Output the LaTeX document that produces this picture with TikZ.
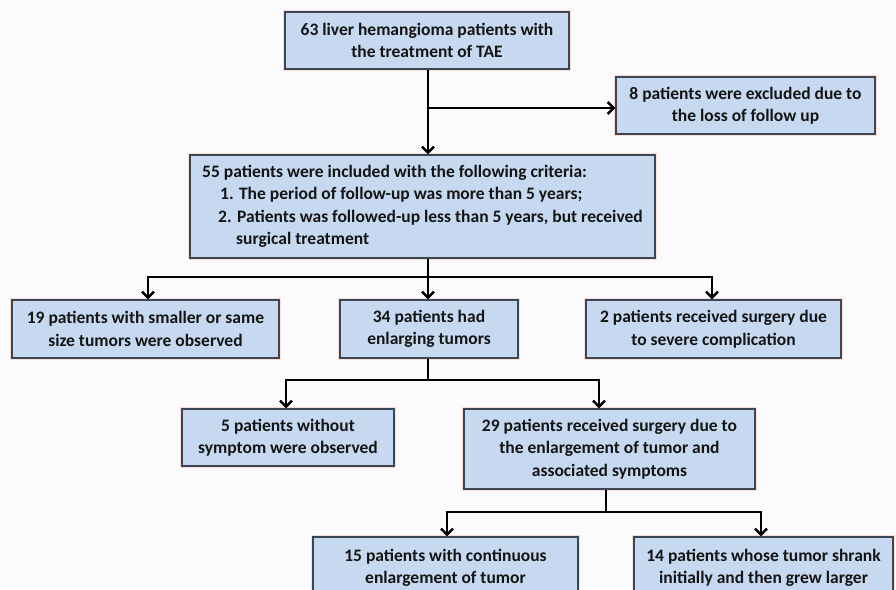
\documentclass[tikz,border=0pt]{standalone}
\usepackage{fontspec}
\setmainfont{Carlito}
\usetikzlibrary{arrows.meta,calc}
\definecolor{boxfill}{RGB}{198,217,240}
\definecolor{boxline}{RGB}{60,70,82}
\definecolor{halo}{RGB}{248,222,212}
\definecolor{bg}{RGB}{251,251,253}
\definecolor{txt}{RGB}{20,20,20}
\tikzset{
  box/.style={rectangle, draw=boxline, line width=1.3pt, fill=boxfill,
    preaction={draw=halo, line width=3.4pt},
    inner sep=0pt, align=center, text=txt,
    font=\fontsize{17.5}{22.5}\selectfont\bfseries},
  conn/.style={line width=2.4pt, black},
  arr/.style={conn, -{Straight Barb[length=6pt,width=12pt]}},
}
\newcommand{\bx}[6]{% name, x1, y1, x2, y2, text
  \node[box, minimum width=#4-#2, minimum height=#5-#3] (#1) at ({(#2+#4)/2},{(#3+#5)/2}) {#6};}
\begin{document}
\begin{tikzpicture}[x=1pt,y=-1pt]
\useasboundingbox (0,0) rectangle (896,589);
\clip (0,0) rectangle (896,589);
\fill[bg] (0,0) rectangle (896,589);

\bx{b1}{285}{12}{569}{69}{63 liver hemangioma patients with\\the treatment of TAE}
\bx{ex}{616}{77}{875}{134}{8 patients were excluded due to\\the loss of follow up}
\node[box, minimum width=465, minimum height=103, align=left] (b55) at (422.5,206.5)
 {55 patients were included with the following criteria:\\
  \hspace*{18pt}1. The period of follow-up was more than 5 years;\\
  \hspace*{16pt}2. Patients was followed-up less than 5 years, but received\\
  \hspace*{34pt}surgical treatment};
\bx{b19}{12}{300}{279}{358}{19 patients with smaller or same\\size tumors were observed}
\bx{b34}{340}{300}{518}{358}{34 patients had\\enlarging tumors}
\bx{b2}{586}{300}{841}{358}{2 patients received surgery due\\to severe complication}
\bx{b5}{182}{409}{394}{466}{5 patients without\\symptom were observed}
\bx{b29}{464}{409}{755}{489}{29 patients received surgery due to\\the enlargement of tumor and\\associated symptoms}
\bx{b15}{313}{537}{578}{599}{15 patients with continuous\\enlargement of tumor}
\bx{b14}{634}{537}{893}{599}{14 patients whose tumor shrank\\initially and then grew larger}

% TAE -> included, with exclusion branch
\coordinate (j1) at (428,108);
\draw[arr] (b1.south -| j1) -- (j1 |- b55.north);
\draw[arr] (j1) -- (j1 -| ex.west);

% included -> three groups
\coordinate (s1) at (428,277);
\draw[conn] (b55.south -| s1) -- (s1);
\draw[arr] (s1) -- (s1 |- b34.north);
\draw[arr] (s1) -| ([xshift=2.5pt]b19.north);
\draw[arr] (s1) -| ([xshift=-1.5pt]b2.north);

% enlarging -> two groups
\coordinate (s2) at (428,380);
\draw[conn] (b34.south -| s2) -- (s2);
\draw[arr] (s2) -| ([xshift=-2pt]b5.north);
\draw[arr] (s2) -| ([xshift=-10.5pt]b29.north);

% surgery -> two groups
\coordinate (s3) at (606,512);
\draw[conn] (b29.south -| s3) -- (s3);
\draw[arr] (s3) -| ([xshift=1.5pt]b15.north);
\draw[arr] (s3) -| ([xshift=-2.5pt]b14.north);
\end{tikzpicture}
\end{document}
